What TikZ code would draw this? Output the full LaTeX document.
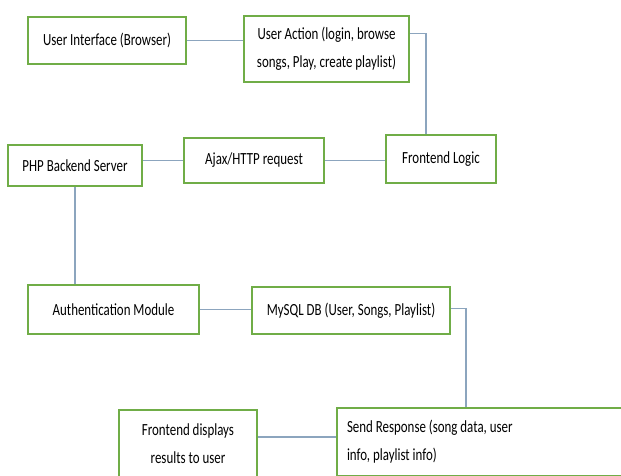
\documentclass[tikz,border=0pt]{standalone}
\usepackage{fontspec}
\setmainfont{Carlito}[FakeStretch=0.76]
\usetikzlibrary{positioning}

\definecolor{boxgreen}{RGB}{112,173,71}
\definecolor{linkblue}{RGB}{140,165,190}

\begin{document}
\begin{tikzpicture}[x=1pt, y=-1pt,
	every node/.style={inner sep=1pt},
	box/.style={draw=boxgreen, line width=1.5pt, fill=white, align=center,
		font=\fontsize{17}{28}\selectfont},
	link/.style={draw=linkblue, line width=1.2pt}]
	% page
	\fill[white] (0,0) rectangle (621,475);
	\clip (0,0) rectangle (621,475);

	% Top row
	\node[box, minimum width=158pt, minimum height=47pt] (ui) at (107,40.5) {User Interface (Browser)};
	\node[box, minimum width=165pt, minimum height=66pt] (ua) at (326.5,49) {User Action (login, browse\\songs, Play, create playlist)};

	% Request row
	\node[box, minimum width=110pt, minimum height=48pt] (fl) at (441,159) {Frontend Logic};
	\node[box, minimum width=140pt, minimum height=45pt] (ajax) at (254,160.5) {Ajax/HTTP request};
	\node[box, minimum width=134pt, minimum height=41pt] (php) at (75,165.5) {PHP Backend Server};

	% Backend row
	\node[box, minimum width=171pt, minimum height=49pt] (auth) at (113.5,309.5) {Authentication Module};
	\node[box, minimum width=198pt, minimum height=47pt] (db) at (351,310.5) {MySQL DB (User, Songs, Playlist)};

	% Response row
	\node[box, text width=270pt, inner sep=10pt, align=flush left, minimum height=68pt] (sr) at (482,442) {Send Response (song data, user\\info, playlist info)};
	\node[box, minimum width=138pt, minimum height=68pt] (fd) at (188,444) {Frontend displays\\results to user};

	% connectors
	\draw[link] (ui.east) -- (ui.east -| ua.west);
	\draw[link] ([yshift=-18pt]ua.north east) -| ([xshift=-15pt]fl.north);
	\draw[link] (ajax.east) -- (ajax.east -| fl.west);
	\draw[link] (php.east |- ajax.west) -- (ajax.west);
	\draw[link] (php.south) -- (php.south |- auth.north);
	\draw[link] (auth.east) -- (auth.east -| db.west);
	\draw[link] ([yshift=2pt]db.east) -| ([xshift=-16pt]sr.north);
	\draw[link] ([yshift=7pt]fd.east) -- ([yshift=7pt]fd.east -| sr.west);
\end{tikzpicture}
\end{document}
